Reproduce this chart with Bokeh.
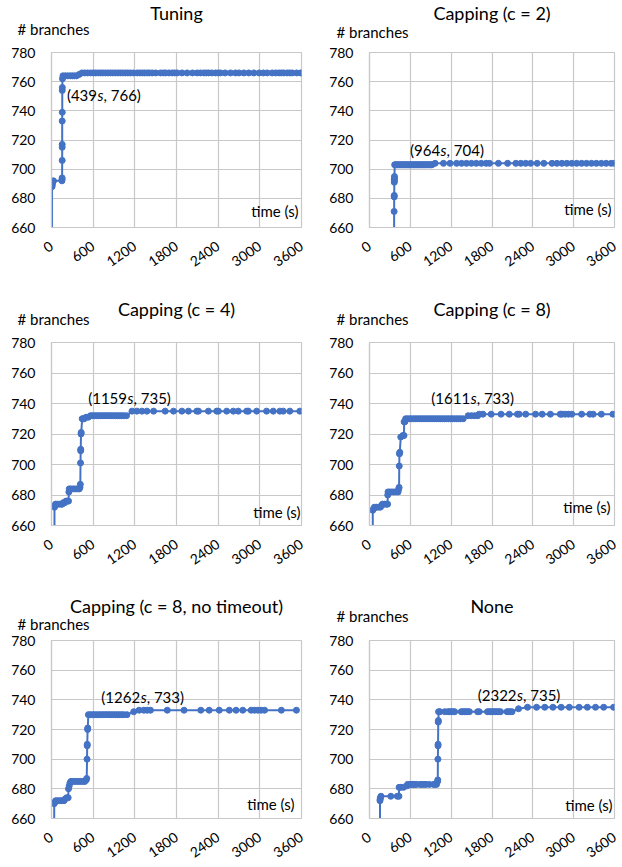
from math import radians
from bokeh.plotting import figure
from bokeh.models import FixedTicker, Range1d, Label
from bokeh.layouts import gridplot
from bokeh.embed import file_html
from bokeh.resources import INLINE

# ---------------- data ----------------
titles = ["Tuning", "Capping (c = 2)", "Capping (c = 4)", "Capping (c = 8)",
          "Capping (c = 8, no timeout)", "None"]
x_ticks = [0, 600, 1200, 1800, 2400, 3000, 3600]
y_ticks = [660, 680, 700, 720, 740, 760, 780]
y_label = "# branches"
x_label = "time (s)"

ann_t = [439, 964, 1159, 1611, 1262, 2322]
ann_v = [766, 704, 735, 733, 733, 735]

tuning_t = [8, 8, 9, 10, 14, 20, 28, 150, 152, 153, 154, 154, 154, 154, 155, 155, 156, 158, 165,
            200, 235, 270, 300, 330, 360, 400, 439,
            480, 520, 562, 600, 634, 670, 706, 740, 778, 815, 850, 885, 922, 960, 994, 1030,
            1066, 1100, 1138, 1180, 1234, 1270, 1306, 1340, 1378, 1410, 1450, 1500, 1570, 1610,
            1642, 1690, 1738, 1775, 1810, 1880, 1954, 2030, 2098, 2146, 2194, 2230, 2266, 2310,
            2362, 2400, 2434, 2500, 2578, 2650, 2700, 2770, 2840, 2914, 2990, 3050, 3106, 3178,
            3230, 3274, 3310, 3346, 3394, 3430, 3466, 3530, 3586]
tuning_v = [640, 688, 689, 690, 691, 691, 692, 692, 693, 694, 706, 715, 717, 733, 739, 754, 756, 762, 764,
            764, 764, 764, 764, 764, 764, 765, 766] + [766] * 67

cap2_t = [362, 362, 363, 364, 364, 365, 365, 366, 367, 370,
          380, 395, 410, 425, 440, 455, 470, 485, 500, 515, 530, 545, 560, 575, 590, 605, 620,
          635, 650, 665, 680, 695, 710, 725, 740, 755, 770, 785, 800, 815, 830, 845, 860, 875,
          890, 905, 918,
          964, 1087, 1184, 1280, 1353, 1425, 1498, 1570, 1643, 1715, 1764, 1894, 2029, 2150,
          2223, 2295, 2368, 2464, 2561, 2682, 2754, 2827, 2899, 2972, 3044, 3117, 3189, 3262,
          3334, 3407, 3479, 3552, 3600]
cap2_v = [640, 671, 681, 682, 691, 692, 693, 694, 695, 703] + [703] * 37 + [704] * 33

cap4_t = [43, 43, 50, 58, 80, 110, 140, 154, 170, 190, 210, 230, 245, 250, 255, 280, 310, 340,
          370, 400, 410, 415, 418, 420, 421, 425, 428, 442, 455, 470, 500, 530, 562,
          590, 620, 650, 680, 710, 740, 770, 800, 830, 860, 890, 920, 950, 980, 1010, 1040, 1080,
          1159, 1230, 1302, 1374, 1470, 1637, 1757, 1877, 1972, 2092, 2116, 2259, 2379, 2403,
          2523, 2618, 2690, 2810, 2834, 2954, 3097, 3193, 3289, 3337, 3432, 3576]
cap4_v = [640, 672, 673, 674, 674, 674, 674, 674, 675, 675, 676, 676, 676, 682, 684, 684, 684, 684,
          684, 684, 685, 687, 701, 709, 710, 720, 721, 730, 730, 730, 731, 731, 732] \
    + [732] * 17 + [735] * 26

cap8_t = [48, 48, 60, 72, 100, 130, 160, 175, 190, 220, 250, 266, 268, 272, 300, 330, 360, 390,
          420, 430, 435, 437, 440, 445, 459, 490, 507, 509, 520, 531,
          560, 590, 620, 650, 680, 710, 740, 770, 800, 830, 860, 890, 920, 950, 980, 1010, 1040,
          1070, 1100, 1130, 1160, 1190, 1220, 1250, 1280, 1310, 1340, 1377,
          1450, 1498, 1546, 1590,
          1611, 1667, 1788, 1933, 2054, 2174, 2199, 2295, 2440, 2537, 2658, 2803, 2827, 2875,
          2923, 2972, 3117, 3238, 3286, 3407, 3576]
cap8_v = [640, 670, 671, 672, 672, 672, 672, 673, 674, 674, 674, 674, 680, 682, 682, 682, 682, 682,
          682, 684, 685, 699, 707, 708, 718, 719, 719, 728, 728, 730] \
    + [730] * 28 + [732] * 4 + [733] * 21

cap8nt_t = [39, 39, 48, 60, 90, 120, 150, 180, 193, 217, 240, 245, 255, 266, 280, 300, 330, 360,
            390, 420, 450, 480, 500, 507, 512, 514, 515, 520, 522, 531,
            560, 590, 620, 650, 680, 710, 740, 770, 800, 830, 860, 890, 920, 950, 980, 1010,
            1040, 1087,
            1184, 1262, 1329, 1377, 1425, 1667, 1909, 2150, 2271, 2416, 2561, 2658, 2754, 2875,
            2923, 2972, 3020, 3068, 3310, 3527]
cap8nt_v = [640, 670, 671, 672, 672, 672, 672, 672, 673, 674, 674, 680, 682, 684, 685, 685, 685, 685,
            685, 685, 685, 685, 686, 687, 700, 709, 710, 720, 721, 730] \
    + [730] * 18 + [732] + [733] * 19

none_t = [154, 154, 156, 160, 169, 313, 409, 433, 435, 460, 500, 553, 560,
          590, 610, 630, 650, 670, 690, 740, 770, 800, 830, 880, 940, 960, 985,
          1001, 1003, 1005, 1007, 1008, 1010, 1012, 1015,
          1035, 1107, 1155, 1179, 1203, 1227, 1251, 1348, 1372, 1396, 1420, 1444, 1468, 1588,
          1612, 1733, 1757, 1781, 1805, 1829, 1853, 1877, 1901, 1925, 2021, 2045, 2070, 2094,
          2190, 2322, 2455, 2575, 2695, 2816, 2936, 3080, 3201, 3321, 3441, 3586]
none_v = [640, 672, 673, 674, 675, 675, 675, 675, 681, 681, 681, 682, 683] + [683] * 14 \
    + [685, 686, 700, 709, 710, 725, 726, 732] + [732] * 28 + [734] + [735] * 11

series_t = [tuning_t, cap2_t, cap4_t, cap8_t, cap8nt_t, none_t]
series_v = [tuning_v, cap2_v, cap4_v, cap8_v, cap8nt_v, none_v]

# ---------------- style / layout ----------------
BLUE = "#4472C4"
GRID = "#C8C8C8"
TXT = "#000000"
FONT = "Lato"

# (width, height, border_left, border_right, border_top, border_bottom)
geom = [(310, 290, 51, 9, 48, 63), (311, 290, 59, 7, 52, 63),
        (310, 290, 51, 9, 50, 55), (311, 290, 59, 7, 52, 55),
        (310, 286, 51, 9, 60, 48), (311, 286, 59, 7, 60, 48)]
title_dy = [40, 40, 34, 34, 35, 35]
ylab_dx = [-34, -33, -34, -33, -34, -33]
ylab_dy = [24, 21, 24, 24, 17, 25]
xlab_dx = [-3, -3, -1, -4, -7, -2]
xlab_dy = [17, 19, 14, 19, 15, 14]
ann_dx = [15, 5, -5, -9, 1, -11]
ann_dy = [-22, 13, 13, 16, 13, 12]


def make_panel(i):
    w, h, bl, br, bt, bb = geom[i]
    p = figure(width=w, height=h, output_backend="svg", toolbar_location=None,
               x_range=Range1d(x_ticks[0], x_ticks[-1]), y_range=Range1d(y_ticks[0], y_ticks[-1]),
               min_border_left=bl, min_border_right=br, min_border_top=bt, min_border_bottom=bb,
               background_fill_color="white", border_fill_color="white")
    p.outline_line_color = GRID
    p.outline_line_width = 1.2
    for ax, ticks in ((p.xaxis, x_ticks), (p.yaxis, y_ticks)):
        ax.ticker = FixedTicker(ticks=ticks)
        ax.axis_line_color = GRID
        ax.axis_line_width = 1.2
        ax.major_tick_line_color = None
        ax.minor_tick_line_color = None
        ax.major_tick_out = 0
        ax.major_tick_in = 0
        ax.minor_tick_out = 0
        ax.major_label_text_font = FONT
        ax.major_label_text_color = TXT
        ax.major_label_text_font_size = "14px"
    p.yaxis.major_label_standoff = 16
    p.xaxis.major_label_standoff = 17
    p.xaxis.major_label_orientation = radians(35)
    for g, ticks in ((p.xgrid, x_ticks), (p.ygrid, y_ticks)):
        g.ticker = FixedTicker(ticks=ticks)
        g.grid_line_color = GRID
        g.grid_line_width = 1.2

    t, v = series_t[i], series_v[i]
    p.line(t, v, line_color=BLUE, line_width=2)
    p.scatter(t, v, size=6, fill_color=BLUE, line_color=BLUE)

    # texts above the frame, placed in the top side panel so they are not clipped
    xmid = (x_ticks[0] + x_ticks[-1]) / 2
    p.add_layout(Label(x=x_ticks[0], y=y_ticks[-1], x_offset=ylab_dx[i], y_offset=ylab_dy[i],
                       text=y_label, text_align="left", text_baseline="middle", text_font=FONT,
                       text_font_size="15px", text_color=TXT), "above")
    p.add_layout(Label(x=xmid, y=y_ticks[-1], y_offset=title_dy[i], text=titles[i],
                       text_align="center", text_baseline="middle", text_font=FONT,
                       text_font_size="18px", text_color=TXT), "above")

    p.add_layout(Label(x=x_ticks[-1], y=y_ticks[0], x_offset=xlab_dx[i], y_offset=xlab_dy[i],
                       text=x_label, text_align="right", text_baseline="middle", text_font=FONT,
                       text_font_size="15px", text_color=TXT))
    # data label "(Ts, V)" with italic s
    at, av = ann_t[i], ann_v[i]
    common = dict(x=at, y=av, y_offset=ann_dy[i], text_baseline="middle", text_font=FONT,
                  text_font_size="15px", text_color=TXT)
    p.add_layout(Label(text=f"({at}", x_offset=ann_dx[i], text_align="right", **common))
    p.add_layout(Label(text="s", x_offset=ann_dx[i] + 0.5, text_align="left",
                       text_font_style="italic", **common))
    p.add_layout(Label(text=f", {av})", x_offset=ann_dx[i] + 6.5, text_align="left", **common))
    return p


plots = [make_panel(i) for i in range(6)]
grid = gridplot([[plots[0], plots[1]], [plots[2], plots[3]], [plots[4], plots[5]]],
                toolbar_location=None)

open("out.html", "w").write(file_html(grid, INLINE))
